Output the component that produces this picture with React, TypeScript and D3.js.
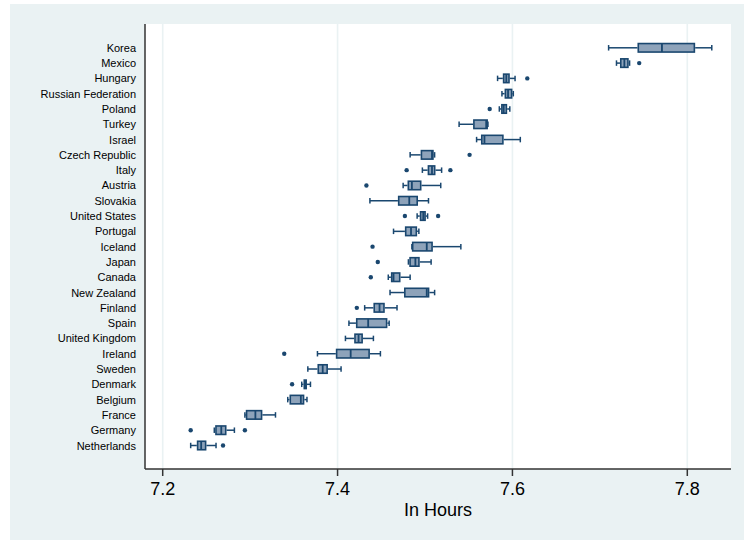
import React from "react";
import * as d3 from "d3";

const countries = ["Korea","Mexico","Hungary","Russian Federation","Poland","Turkey","Israel","Czech Republic","Italy","Austria","Slovakia","United States","Portugal","Iceland","Japan","Canada","New Zealand","Finland","Spain","United Kingdom","Ireland","Sweden","Denmark","Belgium","France","Germany","Netherlands"];
const whiskerLo = [7.710,7.719,7.583,7.588,7.585,7.539,7.559,7.483,7.497,7.475,7.437,7.491,7.464,7.485,7.481,7.458,7.460,7.431,7.413,7.409,7.377,7.366,7.359,7.343,7.294,7.259,7.232];
const q1 = [7.743,7.723,7.589,7.591,7.587,7.555,7.564,7.495,7.503,7.480,7.469,7.494,7.477,7.485,7.482,7.461,7.476,7.441,7.421,7.419,7.398,7.377,7.361,7.345,7.295,7.260,7.239];
const median = [7.771,7.728,7.593,7.595,7.590,7.570,7.568,7.508,7.508,7.485,7.482,7.498,7.484,7.502,7.489,7.464,7.502,7.448,7.435,7.424,7.415,7.383,7.363,7.358,7.306,7.267,7.244];
const q3 = [7.809,7.733,7.597,7.600,7.594,7.572,7.590,7.510,7.512,7.496,7.492,7.501,7.491,7.509,7.494,7.472,7.505,7.454,7.457,7.429,7.437,7.389,7.365,7.362,7.314,7.273,7.250];
const whiskerHi = [7.828,7.734,7.603,7.601,7.597,7.572,7.609,7.511,7.519,7.518,7.504,7.503,7.493,7.541,7.507,7.483,7.511,7.468,7.459,7.441,7.449,7.404,7.369,7.365,7.329,7.282,7.261];
const outliers: number[][] = [[],[7.745],[7.617],[],[7.574],[],[],[7.551],[7.479,7.529],[7.433],[],[7.477,7.515],[],[7.440],[7.446],[7.438],[],[7.422],[],[],[7.339],[],[7.348],[],[],[7.232,7.294],[7.269]];
const xTicks = [7.2, 7.4, 7.6, 7.8];
const xTitle = "In Hours";

export default function App() {
  const W = 744, H = 540;
  const left = 145, right = 731, top = 24, bottom = 469;
  const x = d3.scaleLinear().domain([7.2, 7.8]).range([162.7, 687.3]);
  const y = d3.scalePoint<string>().domain(countries).range([47.8, 445.5]);
  const navy = "#1a476f";
  const fill = "#8ea3ba";
  const grid = "#eaf2f3";
  const font = "'Liberation Sans', Arial, sans-serif";
  const bh = 8.5;
  const ch = 5.5;
  return (
    <svg width={W} height={H} style={{ position: "absolute", left: 0, top: 0 }} fontFamily={font}>
      <rect x={0} y={0} width={W} height={H} fill="#ffffff" />
      <rect x={10} y={4} width={W - 10} height={H - 4} fill={grid} />
      <rect x={left} y={top} width={right - left} height={bottom - top} fill="#ffffff" />
      {xTicks.map((t) => (
        <line key={"g" + t} x1={x(t)} x2={x(t)} y1={top} y2={bottom} stroke={grid} strokeWidth={1.6} />
      ))}
      {countries.map((c, i) => {
        const cy = y(c)!;
        return (
          <g key={c}>
            <line x1={x(whiskerLo[i])} x2={x(q1[i])} y1={cy} y2={cy} stroke={navy} strokeWidth={1.5} />
            <line x1={x(q3[i])} x2={x(whiskerHi[i])} y1={cy} y2={cy} stroke={navy} strokeWidth={1.5} />
            <line x1={x(whiskerLo[i])} x2={x(whiskerLo[i])} y1={cy - ch / 2} y2={cy + ch / 2} stroke={navy} strokeWidth={1.5} />
            <line x1={x(whiskerHi[i])} x2={x(whiskerHi[i])} y1={cy - ch / 2} y2={cy + ch / 2} stroke={navy} strokeWidth={1.5} />
            <rect x={x(q1[i]) + 0.8} y={cy - bh / 2} width={Math.max(0.5, x(q3[i]) - x(q1[i]) - 1.6)} height={bh} fill={fill} stroke={navy} strokeWidth={1.6} />
            <line x1={x(median[i])} x2={x(median[i])} y1={cy - bh / 2} y2={cy + bh / 2} stroke={navy} strokeWidth={1.8} />
            {outliers[i].map((o, j) => (
              <circle key={j} cx={x(o)} cy={cy} r={2.2} fill={navy} />
            ))}
            <text x={136} y={cy} textAnchor="end" dominantBaseline="central" fontSize={11} fill="#000">{c}</text>
          </g>
        );
      })}
      <line x1={left} x2={left} y1={top} y2={bottom} stroke="#333" strokeWidth={1.5} />
      <line x1={left} x2={right} y1={bottom} y2={bottom} stroke="#333" strokeWidth={1.5} />
      {xTicks.map((t) => (
        <g key={"t" + t}>
          <line x1={x(t)} x2={x(t)} y1={bottom} y2={bottom + 7} stroke="#333" strokeWidth={1.5} />
          <text x={x(t)} y={495} textAnchor="middle" fontSize={18} fill="#000">{t.toFixed(1)}</text>
        </g>
      ))}
      <text x={(left + right) / 2} y={516} textAnchor="middle" fontSize={18} fill="#000">{xTitle}</text>
    </svg>
  );
}
